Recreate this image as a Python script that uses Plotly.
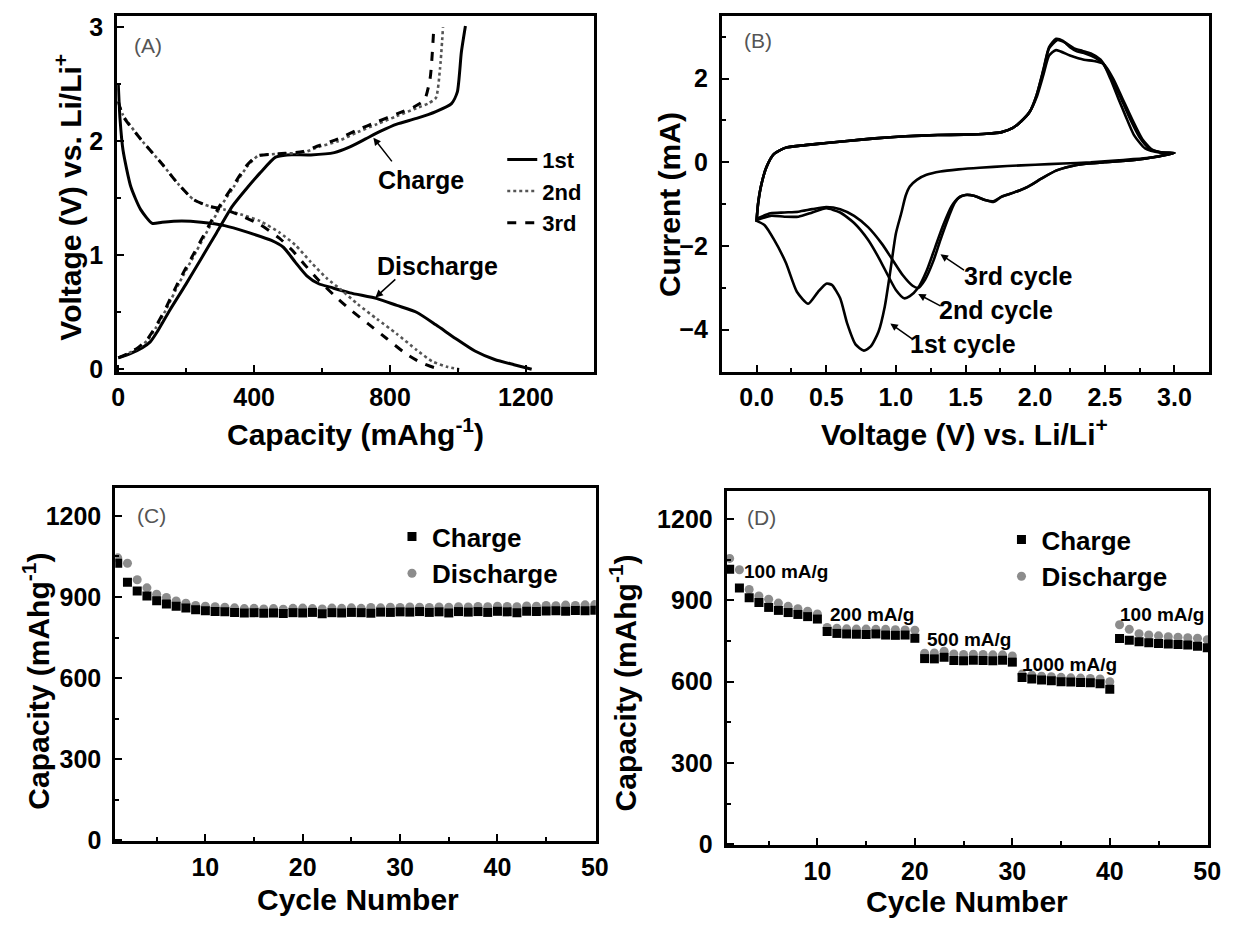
import plotly.graph_objects as go

# ---------------- (A) galvanostatic charge/discharge profiles ----------------
cap_dis_1 = [0, 5, 14, 37, 66, 100, 129, 187, 244, 313, 382, 451, 486, 521, 555, 590,
             624, 682, 762, 820, 878, 935, 993, 1050, 1108, 1165, 1217]
v_dis_1 = [2.5, 2.2, 1.92, 1.6, 1.40, 1.28, 1.29, 1.30, 1.29, 1.26, 1.2, 1.13, 1.07, 0.94,
           0.82, 0.75, 0.72, 0.67, 0.62, 0.56, 0.5, 0.39, 0.27, 0.16, 0.086, 0.04, 0.0]
cap_chg_1 = [0, 37, 71, 94, 117, 152, 198, 244, 290, 336, 382, 417, 463, 497, 567, 636,
             682, 728, 774, 820, 878, 935, 981, 998, 1010, 1022]
v_chg_1 = [0.1, 0.14, 0.19, 0.24, 0.34, 0.52, 0.74, 0.97, 1.2, 1.43, 1.6, 1.72, 1.86, 1.88,
           1.88, 1.9, 1.95, 2.02, 2.09, 2.15, 2.2, 2.26, 2.33, 2.43, 2.78, 3.01]

cap_dis_2 = [0, 14, 71, 129, 175, 221, 267, 313, 359, 417, 474, 521, 567, 613, 659, 705,
             762, 820, 878, 924, 970, 1004]
v_dis_2 = [2.35, 2.23, 2.0, 1.8, 1.63, 1.49, 1.43, 1.4, 1.36, 1.3, 1.2, 1.09, 0.94, 0.8,
           0.69, 0.57, 0.44, 0.31, 0.17, 0.07, 0.02, 0.0]
cap_chg_2 = [0, 30, 60, 85, 110, 140, 180, 220, 260, 300, 340, 380, 411, 474, 544, 590,
             647, 705, 762, 820, 878, 912, 935, 947, 956]
v_chg_2 = [0.1, 0.14, 0.19, 0.25, 0.36, 0.52, 0.76, 0.98, 1.2, 1.42, 1.6, 1.78, 1.87, 1.89,
           1.9, 1.95, 2.0, 2.08, 2.15, 2.22, 2.29, 2.33, 2.38, 2.63, 3.0]

cap_dis_3 = [0, 14, 71, 129, 175, 221, 267, 313, 359, 417, 474, 510, 545, 590, 635, 680,
             735, 790, 845, 890, 930, 955]
v_dis_3 = [2.35, 2.22, 2.0, 1.8, 1.63, 1.49, 1.43, 1.4, 1.35, 1.27, 1.15, 1.05, 0.93, 0.78,
           0.65, 0.53, 0.4, 0.27, 0.14, 0.06, 0.015, 0.0]
cap_chg_3 = [0, 30, 58, 82, 107, 137, 176, 216, 256, 296, 336, 376, 408, 474, 544, 590,
             647, 705, 762, 820, 870, 901, 918, 929]
v_chg_3 = [0.1, 0.14, 0.19, 0.25, 0.36, 0.52, 0.76, 0.98, 1.2, 1.42, 1.6, 1.78, 1.87, 1.89,
           1.91, 1.96, 2.02, 2.1, 2.17, 2.24, 2.3, 2.36, 2.55, 3.0]

cycle_names_a = ["1st", "2nd", "3rd"]

# ---------------- (B) cyclic voltammetry ----------------
cv1_cat_v = [3.0, 2.8, 2.6, 2.4, 2.2, 2.0, 1.8, 1.6, 1.45, 1.32, 1.22, 1.15, 1.1, 1.07, 1.04,
             1.0, 0.96, 0.92, 0.875, 0.82, 0.77, 0.71, 0.65, 0.6, 0.54, 0.5, 0.44, 0.37,
             0.29, 0.21, 0.125, 0.056, 0.0]
cv1_cat_i = [0.22, 0.1, 0.05, 0.0, -0.03, -0.06, -0.09, -0.13, -0.17, -0.22, -0.3, -0.42,
             -0.58, -0.8, -1.2, -1.7, -2.6, -3.45, -4.05, -4.4, -4.5, -4.35, -3.85, -3.25,
             -2.93, -2.9, -3.1, -3.38, -3.1, -2.4, -1.85, -1.5, -1.4]
cv1_an_v = [0.0, 0.01, 0.03, 0.07, 0.125, 0.21, 0.32, 0.5, 0.65, 0.85, 1.07, 1.3, 1.49, 1.65,
            1.76, 1.84, 1.9, 1.96, 2.01, 2.06, 2.1, 2.15, 2.2, 2.25, 2.3, 2.36, 2.43, 2.49,
            2.54, 2.6, 2.65, 2.71, 2.79, 2.9, 3.0]
cv1_an_i = [-1.4, -1.0, -0.59, -0.12, 0.2, 0.35, 0.4, 0.46, 0.51, 0.57, 0.62, 0.65, 0.66,
            0.68, 0.72, 0.82, 0.98, 1.2, 1.6, 2.23, 2.75, 2.95, 2.9, 2.75, 2.65, 2.6, 2.5,
            2.35, 2.0, 1.5, 1.1, 0.65, 0.33, 0.23, 0.22]

cv2_cat_v = [3.0, 2.85, 2.7, 2.5, 2.35, 2.25, 2.15, 2.05, 1.95, 1.85, 1.76, 1.7, 1.64, 1.56,
             1.5, 1.45, 1.40, 1.34, 1.28, 1.22, 1.16, 1.1, 1.06, 1.0, 0.95, 0.88, 0.8, 0.7,
             0.6, 0.5, 0.4, 0.3, 0.2, 0.1, 0.0]
cv2_cat_i = [0.22, 0.12, 0.05, 0.0, -0.04, -0.1, -0.2, -0.38, -0.58, -0.72, -0.82, -0.93,
             -0.9, -0.8, -0.78, -0.85, -1.05, -1.5, -2.05, -2.6, -3.0, -3.2, -3.25, -3.05,
             -2.75, -2.3, -1.85, -1.45, -1.2, -1.1, -1.2, -1.3, -1.3, -1.28, -1.38]
cv2_an_v = [0.0, 0.01, 0.03, 0.07, 0.125, 0.21, 0.32, 0.5, 0.65, 0.85, 1.07, 1.3, 1.49, 1.65,
            1.76, 1.84, 1.9, 1.96, 2.01, 2.06, 2.1, 2.16, 2.22, 2.28, 2.34, 2.4, 2.47, 2.55,
            2.62, 2.68, 2.75, 2.82, 2.9, 3.0]
cv2_an_i = [-1.38, -1.0, -0.59, -0.12, 0.2, 0.35, 0.4, 0.46, 0.51, 0.57, 0.62, 0.65, 0.66,
            0.68, 0.72, 0.82, 0.98, 1.2, 1.6, 2.2, 2.72, 2.92, 2.85, 2.72, 2.66, 2.6, 2.45,
            2.0, 1.5, 1.05, 0.6, 0.33, 0.24, 0.22]

cv3_cat_v = [3.0, 2.85, 2.7, 2.5, 2.35, 2.25, 2.15, 2.05, 1.95, 1.85, 1.76, 1.7, 1.64, 1.56,
             1.5, 1.46, 1.42, 1.38, 1.32, 1.27, 1.21, 1.16, 1.12, 1.05, 0.97, 0.9, 0.8, 0.7,
             0.6, 0.5, 0.4, 0.3, 0.2, 0.1, 0.0]
cv3_cat_i = [0.22, 0.12, 0.05, 0.0, -0.04, -0.1, -0.2, -0.38, -0.58, -0.72, -0.82, -0.95,
             -0.9, -0.8, -0.78, -0.82, -0.98, -1.3, -1.85, -2.35, -2.8, -3.0, -2.95, -2.7,
             -2.3, -1.95, -1.55, -1.28, -1.12, -1.07, -1.12, -1.18, -1.2, -1.22, -1.35]
cv3_an_v = [0.0, 0.01, 0.03, 0.07, 0.125, 0.21, 0.32, 0.5, 0.65, 0.85, 1.07, 1.3, 1.49, 1.65,
            1.76, 1.84, 1.9, 1.96, 2.01, 2.06, 2.1, 2.15, 2.25, 2.35, 2.42, 2.49, 2.56, 2.63,
            2.7, 2.77, 2.84, 2.92, 3.0]
cv3_an_i = [-1.35, -1.0, -0.59, -0.12, 0.2, 0.35, 0.4, 0.46, 0.51, 0.57, 0.62, 0.65, 0.66,
            0.68, 0.72, 0.82, 0.98, 1.2, 1.55, 2.1, 2.55, 2.68, 2.55, 2.45, 2.42, 2.35, 2.0,
            1.5, 1.0, 0.55, 0.3, 0.23, 0.22]

# ---------------- (C) cycling at constant current ----------------
cycles = list(range(1, 51))
c_charge = [1025, 955, 922, 904, 886, 874, 866, 859, 853, 849, 846, 845, 843, 841, 842, 840,
            841, 839, 842, 841, 843, 838, 842, 841, 843, 842, 840, 844, 843, 845, 844, 846,
            843, 845, 841, 846, 844, 846, 843, 847, 845, 842, 847, 846, 848, 849, 847, 850,
            849, 851]
c_discharge = [1045, 1025, 964, 934, 910, 898, 885, 877, 869, 866, 864, 862, 860, 857, 858,
               856, 857, 855, 858, 859, 857, 856, 859, 858, 860, 858, 861, 860, 862, 861,
               863, 862, 861, 863, 862, 864, 863, 865, 864, 866, 865, 864, 867, 866, 869,
               868, 870, 869, 871, 872]

# ---------------- (D) rate capability ----------------
d_charge = [1015, 946, 910, 892, 874, 863, 855, 848, 840, 831,
            785, 778, 776, 775, 774, 776, 772, 771, 772, 760,
            685, 684, 690, 678, 677, 679, 678, 677, 679, 672,
            615, 610, 606, 603, 600, 599, 597, 596, 592, 572,
            759, 753, 747, 744, 741, 739, 737, 735, 731, 725]
d_discharge = [1055, 1013, 940, 916, 904, 890, 878, 869, 860, 850,
               800, 797, 795, 794, 794, 793, 793, 792, 791, 790,
               705, 706, 712, 702, 700, 701, 700, 699, 699, 695,
               628, 624, 620, 618, 616, 614, 613, 612, 610, 600,
               810, 793, 777, 772, 769, 766, 764, 762, 760, 755]
rate_labels = ["100 mA/g", "200 mA/g", "500 mA/g", "1000 mA/g", "100 mA/g"]
rate_label_x = [6.8, 15.6, 25.6, 35.9, 45.4]
rate_label_y = [1008, 846, 755, 664, 849]

# ---------------- styling helpers ----------------
FONT = "Liberation Sans, Arial, Helvetica, sans-serif"
W, H = 1236, 931


def px_x(p):
    return p / W


def px_y(p):
    return 1 - p / H


def axis(domain, rng, dtick, minor_dtick, anchor, fmt=None, standoff=6):
    d = dict(
        domain=domain, range=rng, anchor=anchor,
        showline=True, mirror=True, linecolor="black", linewidth=3,
        ticks="inside", ticklen=7, tickwidth=2, tickcolor="black",
        tick0=0, dtick=dtick,
        minor=dict(ticks="inside", ticklen=4, tickwidth=2, tickcolor="black",
                   dtick=minor_dtick, tick0=0),
        showgrid=False, zeroline=False,
        tickfont=dict(family=FONT, size=25, color="black", weight="bold"),
        ticklabelstandoff=standoff,
    )
    if fmt:
        d["tickformat"] = fmt
    return d


fig = go.Figure()

# (A) each cycle: discharge branch, gap, charge branch
dashes = ["solid", "dot", "dash"]
colors_a = ["black", "#555555", "black"]
widths_a = [3, 2.6, 3]
for name, cd, vd, cc, vc, dsh, col, w in zip(
        cycle_names_a,
        [cap_dis_1, cap_dis_2, cap_dis_3], [v_dis_1, v_dis_2, v_dis_3],
        [cap_chg_1, cap_chg_2, cap_chg_3], [v_chg_1, v_chg_2, v_chg_3],
        dashes, colors_a, widths_a):
    fig.add_trace(go.Scatter(
        x=cd + [None] + cc, y=vd + [None] + vc, mode="lines", name=name,
        line=dict(color=col, width=w, dash=dsh, shape="spline", smoothing=0.6),
        xaxis="x", yaxis="y", legend="legend"))

# (B) three CV loops
for cv, ci, av, ai in [(cv1_cat_v, cv1_cat_i, cv1_an_v, cv1_an_i),
                       (cv2_cat_v, cv2_cat_i, cv2_an_v, cv2_an_i),
                       (cv3_cat_v, cv3_cat_i, cv3_an_v, cv3_an_i)]:
    fig.add_trace(go.Scatter(
        x=cv + av, y=ci + ai, mode="lines", showlegend=False,
        line=dict(color="black", width=2.6, shape="spline", smoothing=0.6),
        xaxis="x2", yaxis="y2"))

# (C) and (D) capacity vs cycle number
for xa, ya, ch, dis, lg in [("x3", "y3", c_charge, c_discharge, "legend2"),
                            ("x4", "y4", d_charge, d_discharge, "legend3")]:
    fig.add_trace(go.Scatter(
        x=cycles, y=dis, mode="markers", name="Discharge",
        marker=dict(symbol="circle", size=9, color="#8c8c8c"),
        xaxis=xa, yaxis=ya, legend=lg, legendrank=2))
    fig.add_trace(go.Scatter(
        x=cycles, y=ch, mode="markers", name="Charge",
        marker=dict(symbol="square", size=9, color="black"),
        xaxis=xa, yaxis=ya, legend=lg, legendrank=1))

# plot-area boxes (pixel edges converted to paper fractions)
dom_a_x = [px_x(113), px_x(597)]
dom_b_x = [px_x(727), px_x(1222)]
dom_top_y = [px_y(375), px_y(13)]
dom_c_x = [px_x(111), px_x(599)]
dom_c_y = [px_y(853), px_y(493)]
dom_d_x = [px_x(732), px_x(1221)]
dom_d_y = [px_y(857), px_y(497)]

layout = dict(
    width=W, height=H, margin=dict(l=0, r=0, t=0, b=0),
    paper_bgcolor="white", plot_bgcolor="white",
    font=dict(family=FONT, color="black"),
    xaxis=axis(dom_a_x, [-3, 1400], 400, 200, "y", standoff=1),
    yaxis=axis(dom_top_y, [-0.02, 3.1], 1, 0.5, "x"),
    xaxis2=axis(dom_b_x, [-0.25, 3.25], 0.5, 0.25, "y2", ".1f", standoff=1),
    yaxis2=axis(dom_top_y, [-5, 3.5], 2, 1, "x2"),
    xaxis3=axis(dom_c_x, [0.75, 50.1], 10, 5, "y3", standoff=2),
    yaxis3=axis(dom_c_y, [-4, 1305], 300, 150, "x3"),
    xaxis4=axis(dom_d_x, [0.7, 50.1], 10, 5, "y4", standoff=2),
    yaxis4=axis(dom_d_y, [-4, 1302], 300, 150, "x4"),
    legend=dict(x=px_x(504), y=px_y(138), xanchor="left", yanchor="top",
                bgcolor="rgba(0,0,0,0)",
                font=dict(family=FONT, size=22, weight="bold"), tracegroupgap=0),
    legend2=dict(x=px_x(392), y=px_y(519), xanchor="left", yanchor="top",
                 bgcolor="rgba(0,0,0,0)",
                 font=dict(family=FONT, size=26, weight="bold")),
    legend3=dict(x=px_x(1011), y=px_y(522), xanchor="left", yanchor="top",
                 bgcolor="rgba(0,0,0,0)",
                 font=dict(family=FONT, size=26, weight="bold")),
)
fig.update_layout(**layout)

ann = []
bold25 = dict(family=FONT, size=25, color="black", weight="bold")
title_font = dict(family=FONT, size=30, color="black", weight="bold")
letter_font = dict(family=FONT, size=21, color="#555555")


def paper_text(text, xp, yp, font, angle=0, xanchor="center"):
    return dict(text=text, x=px_x(xp), y=px_y(yp), xref="paper", yref="paper",
                xanchor=xanchor, yanchor="middle", showarrow=False, textangle=angle,
                font=font)


# axis titles
ann += [
    paper_text("Capacity (mAhg<sup>-1</sup>)", 355, 437, title_font),
    paper_text("Voltage (V) vs. Li/Li<sup>+</sup>", 63, 198, title_font, -90),
    paper_text("Voltage (V) vs. Li/Li<sup>+</sup>", 973, 437, title_font),
    paper_text("Current (mA)", 674, 205, title_font, -90),
    paper_text("Cycle Number", 357, 912, title_font),
    paper_text("Capacity (mAhg<sup>-1</sup>)", 31, 690, title_font, -90),
    paper_text("Cycle Number", 976, 914, title_font),
    paper_text("Capacity (mAhg<sup>-1</sup>)", 627, 692, title_font, -90),
]

# panel letters
for txt, xp, yp in [("(A)", 128, 43), ("(B)", 747, 38), ("(C)", 131, 521), ("(D)", 751, 524)]:
    ann.append(paper_text(txt, xp, yp, letter_font, xanchor="left"))

# (A) curve labels with pointers
ann += [
    dict(x=751, y=2.03, ax=809, ay=1.81, xref="x", yref="y", axref="x", ayref="y",
         text="", showarrow=True, arrowhead=2, arrowsize=1, arrowwidth=1.5,
         arrowcolor="black"),
    dict(x=890, y=1.66, xref="x", yref="y", text="Charge", showarrow=False, font=bold25),
    dict(x=757, y=0.63, ax=820, ay=0.8, xref="x", yref="y", axref="x", ayref="y",
         text="", showarrow=True, arrowhead=2, arrowsize=1, arrowwidth=1.5,
         arrowcolor="black"),
    dict(x=939, y=0.91, xref="x", yref="y", text="Discharge", showarrow=False,
         font=bold25),
]

# (B) cycle labels with pointers
for txt, hx, hy, tx, ty, lx, ly in [
        ("3rd cycle", 1.32, -2.2, 1.5, -2.6, 1.88, -2.71),
        ("2nd cycle", 1.16, -3.15, 1.33, -3.45, 1.72, -3.53),
        ("1st cycle", 0.96, -3.85, 1.13, -4.25, 1.48, -4.35)]:
    ann.append(dict(x=hx, y=hy, ax=tx, ay=ty, xref="x2", yref="y2", axref="x2",
                    ayref="y2", text="", showarrow=True, arrowhead=2, arrowsize=1,
                    arrowwidth=1.5, arrowcolor="black"))
    ann.append(dict(x=lx, y=ly, xref="x2", yref="y2", text=txt, showarrow=False,
                    font=bold25))

# (D) current density labels
for txt, lx, ly in zip(rate_labels, rate_label_x, rate_label_y):
    ann.append(dict(x=lx, y=ly, xref="x4", yref="y4", text=txt, showarrow=False,
                    font=dict(family=FONT, size=19, color="black", weight="bold")))

fig.update_layout(annotations=ann)
fig.write_html("out.html")
